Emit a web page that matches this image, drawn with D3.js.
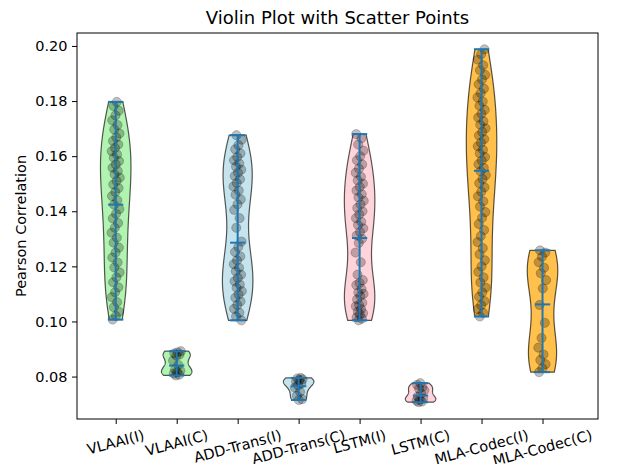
<!DOCTYPE html>
<html>
<head>
<meta charset="utf-8">
<script src="https://cdn.jsdelivr.net/npm/d3@7"></script>
<style>
  html, body { margin: 0; padding: 0; background: #fff; }
  svg { display: block; }
  text { font-family: "DejaVu Sans", sans-serif; fill: #000; }
</style>
</head>
<body>
<svg id="chart" width="621" height="464"></svg>
<script>
// ---------- data ----------
const categories = ["VLAAI(I)", "VLAAI(C)", "ADD-Trans(I)", "ADD-Trans(C)", "LSTM(I)", "LSTM(C)", "MLA-Codec(I)", "MLA-Codec(C)"];
const colors = ["#90EE90", "#90EE90", "#ADD8E6", "#ADD8E6", "#FFC0CB", "#FFC0CB", "#FFA500", "#FFA500"];

const vlaaiI = [0.1797, 0.1782, 0.1765, 0.1748, 0.1730, 0.1713, 0.1697, 0.1682, 0.1668, 0.1655,
  0.1642, 0.1630, 0.1618, 0.1606, 0.1594, 0.1582, 0.1570, 0.1558, 0.1546, 0.1534,
  0.1522, 0.1510, 0.1497, 0.1484, 0.1470, 0.1455, 0.1440, 0.1424, 0.1408, 0.1391,
  0.1374, 0.1357, 0.1340, 0.1322, 0.1304, 0.1286, 0.1268, 0.1250, 0.1232, 0.1214,
  0.1196, 0.1178, 0.1160, 0.1142, 0.1124, 0.1106, 0.1088, 0.1070, 0.1052, 0.1035,
  0.1020, 0.1007];
const vlaaiC = [0.0892, 0.0888, 0.0884, 0.0880, 0.0876, 0.0858, 0.0842, 0.0826, 0.0821, 0.0816,
  0.0811, 0.0807, 0.0804];
const addTransI = [0.1676, 0.1660, 0.1640, 0.1625, 0.1610, 0.1597, 0.1585, 0.1573, 0.1562, 0.1551,
  0.1540, 0.1528, 0.1516, 0.1503, 0.1490, 0.1475, 0.1460, 0.1443, 0.1425, 0.1405,
  0.1375, 0.1340, 0.1290, 0.1270, 0.1252, 0.1236, 0.1222, 0.1208, 0.1195, 0.1182,
  0.1170, 0.1158, 0.1146, 0.1134, 0.1122, 0.1110, 0.1098, 0.1086, 0.1073, 0.1060,
  0.1046, 0.1032, 0.1018, 0.1004];
const addTransC = [0.0795, 0.0793, 0.0790, 0.0787, 0.0782, 0.0775, 0.0768, 0.0760, 0.0745, 0.0730, 0.0718, 0.0715];
const lstmI = [0.1680, 0.1665, 0.1642, 0.1620, 0.1600, 0.1585, 0.1570, 0.1555, 0.1540, 0.1525,
  0.1512, 0.1500, 0.1488, 0.1475, 0.1462, 0.1450, 0.1438, 0.1425, 0.1412, 0.1400,
  0.1388, 0.1375, 0.1362, 0.1350, 0.1338, 0.1325, 0.1312, 0.1300, 0.1285, 0.1250,
  0.1215, 0.1170, 0.1150, 0.1140, 0.1132, 0.1118, 0.1105, 0.1100, 0.1092, 0.1080,
  0.1068, 0.1060, 0.1055, 0.1045, 0.1035, 0.1030, 0.1025, 0.1015, 0.1010, 0.1004];
const lstmC = [0.0776, 0.0770, 0.0762, 0.0756, 0.0750, 0.0738, 0.0727, 0.0720, 0.0716, 0.0712, 0.0709, 0.0707];
const mlaI = [0.1988, 0.1970, 0.1950, 0.1930, 0.1912, 0.1895, 0.1878, 0.1861, 0.1845, 0.1829,
  0.1813, 0.1798, 0.1783, 0.1768, 0.1754, 0.1740, 0.1727, 0.1714, 0.1701, 0.1688,
  0.1675, 0.1662, 0.1649, 0.1636, 0.1623, 0.1610, 0.1597, 0.1584, 0.1571, 0.1558,
  0.1545, 0.1531, 0.1517, 0.1502, 0.1487, 0.1471, 0.1454, 0.1436, 0.1417, 0.1397,
  0.1376, 0.1354, 0.1332, 0.1310, 0.1288, 0.1266, 0.1244, 0.1222, 0.1200, 0.1180,
  0.1160, 0.1141, 0.1123, 0.1106, 0.1090, 0.1074, 0.1059, 0.1045, 0.1031, 0.1018];
const mlaC = [0.1258, 0.1250, 0.1235, 0.1215, 0.1195, 0.1175, 0.1150, 0.1120, 0.1060, 0.0995,
  0.0940, 0.0905, 0.0880, 0.0860, 0.0845, 0.0830, 0.0816];

const series = [vlaaiI, vlaaiC, addTransI, addTransC, lstmI, lstmC, mlaI, mlaC];
// centre marks
const centerMarks = [0.1424, 0.0840, 0.1286, 0.0765, 0.1303, 0.0731, 0.1547, 0.1062];
const yTicks = [0.08, 0.10, 0.12, 0.14, 0.16, 0.18, 0.20];
const titleText = "Violin Plot with Scatter Points";
const yLabelText = "Pearson Correlation";

// ---------- layout ----------
const svg = d3.select("#chart");
const L = 77, R = 598, T = 33, B = 419;
const x = d3.scaleLinear().domain([0.365, 8.91]).range([L, R]);
const y = d3.scaleLinear().domain([0.0646, 0.2047]).range([B, T]);

// ---------- violins ----------
function kde(vals) {
  const n = vals.length;
  const sd = d3.deviation(vals);
  const bw = sd * Math.pow(n, -0.2);
  const lo = d3.min(vals), hi = d3.max(vals);
  const pts = d3.range(100).map(i => lo + (hi - lo) * i / 99);
  return pts.map(p => [p, d3.sum(vals, v => Math.exp(-0.5 * ((p - v) / bw) ** 2))]);
}

const gV = svg.append("g");
series.forEach((vals, i) => {
  const pos = i + 1;
  const dens = kde(vals);
  const mx = d3.max(dens, d => d[1]);
  const area = d3.area()
    .x0(d => x(pos - 0.25 * d[1] / mx))
    .x1(d => x(pos + 0.25 * d[1] / mx))
    .y(d => y(d[0]));
  gV.append("path")
    .attr("d", area(dens))
    .attr("fill", colors[i])
    .attr("fill-opacity", 0.7)
    .attr("stroke", "#000")
    .attr("stroke-opacity", 0.65)
    .attr("stroke-width", 1.2);
});

// ---------- scatter points (deterministic jitter) ----------
const gP = svg.append("g");
series.forEach((vals, i) => {
  const pos = i + 1;
  vals.forEach((v, j) => {
    const frac = ((j + 1) * 0.6180339887 + i * 0.37) % 1;
    const off = (frac - 0.5) * 0.14;
    gP.append("circle")
      .attr("cx", x(pos + off))
      .attr("cy", y(v))
      .attr("r", 4.6)
      .attr("fill", "#000")
      .attr("fill-opacity", 0.25)
      .attr("stroke", "#000")
      .attr("stroke-opacity", 0.2)
      .attr("stroke-width", 1);
  });
});

// ---------- extrema & centre lines ----------
const gL = svg.append("g").attr("stroke", "#1f77b4").attr("stroke-width", 2);
series.forEach((vals, i) => {
  const pos = i + 1;
  const lo = d3.min(vals), hi = d3.max(vals), mu = centerMarks[i];
  gL.append("line").attr("x1", x(pos)).attr("x2", x(pos)).attr("y1", y(lo)).attr("y2", y(hi));
  [lo, hi, mu].forEach(v => {
    gL.append("line").attr("x1", x(pos - 0.125)).attr("x2", x(pos + 0.125)).attr("y1", y(v)).attr("y2", y(v));
  });
});

// ---------- axes frame ----------
svg.append("rect").attr("x", L).attr("y", T).attr("width", R - L).attr("height", B - T)
  .attr("fill", "none").attr("stroke", "#000").attr("stroke-width", 1);

const fs = 14.5;
// y axis
const yAxis = d3.axisLeft(y).tickValues(yTicks).tickFormat(d3.format(".2f")).tickSize(5).tickPadding(4.5);
const gy = svg.append("g").attr("transform", `translate(${L},0)`).call(yAxis);
gy.select(".domain").remove();
gy.selectAll("text").style("font-size", fs + "px").style("font-family", "DejaVu Sans");

// x axis
const xAxis = d3.axisBottom(x).tickValues(d3.range(1, 9)).tickFormat("").tickSize(5);
const gx = svg.append("g").attr("transform", `translate(0,${B})`).call(xAxis);
gx.select(".domain").remove();

// rotated x labels (bbox top-aligned below ticks, centred on tick)
const ang = 15 * Math.PI / 180;
categories.forEach((c, i) => {
  const t = svg.append("text").text(c).style("font-size", fs + "px")
    .attr("text-anchor", "middle").attr("dominant-baseline", "central");
  const w = t.node().getComputedTextLength();
  const h = fs * 0.95;
  const cy = B + 9 + (w / 2) * Math.sin(ang) + (h / 2) * Math.cos(ang);
  t.attr("transform", `translate(${x(i + 1)},${cy}) rotate(-15)`);
});

// title
svg.append("text").attr("x", (L + R) / 2).attr("y", 24).attr("text-anchor", "middle")
  .style("font-size", "18px").text(titleText);

// y label
svg.append("text").attr("transform", `translate(26,${(T + B) / 2}) rotate(-90)`)
  .attr("text-anchor", "middle").style("font-size", fs + "px").text(yLabelText);
</script>
</body>
</html>
